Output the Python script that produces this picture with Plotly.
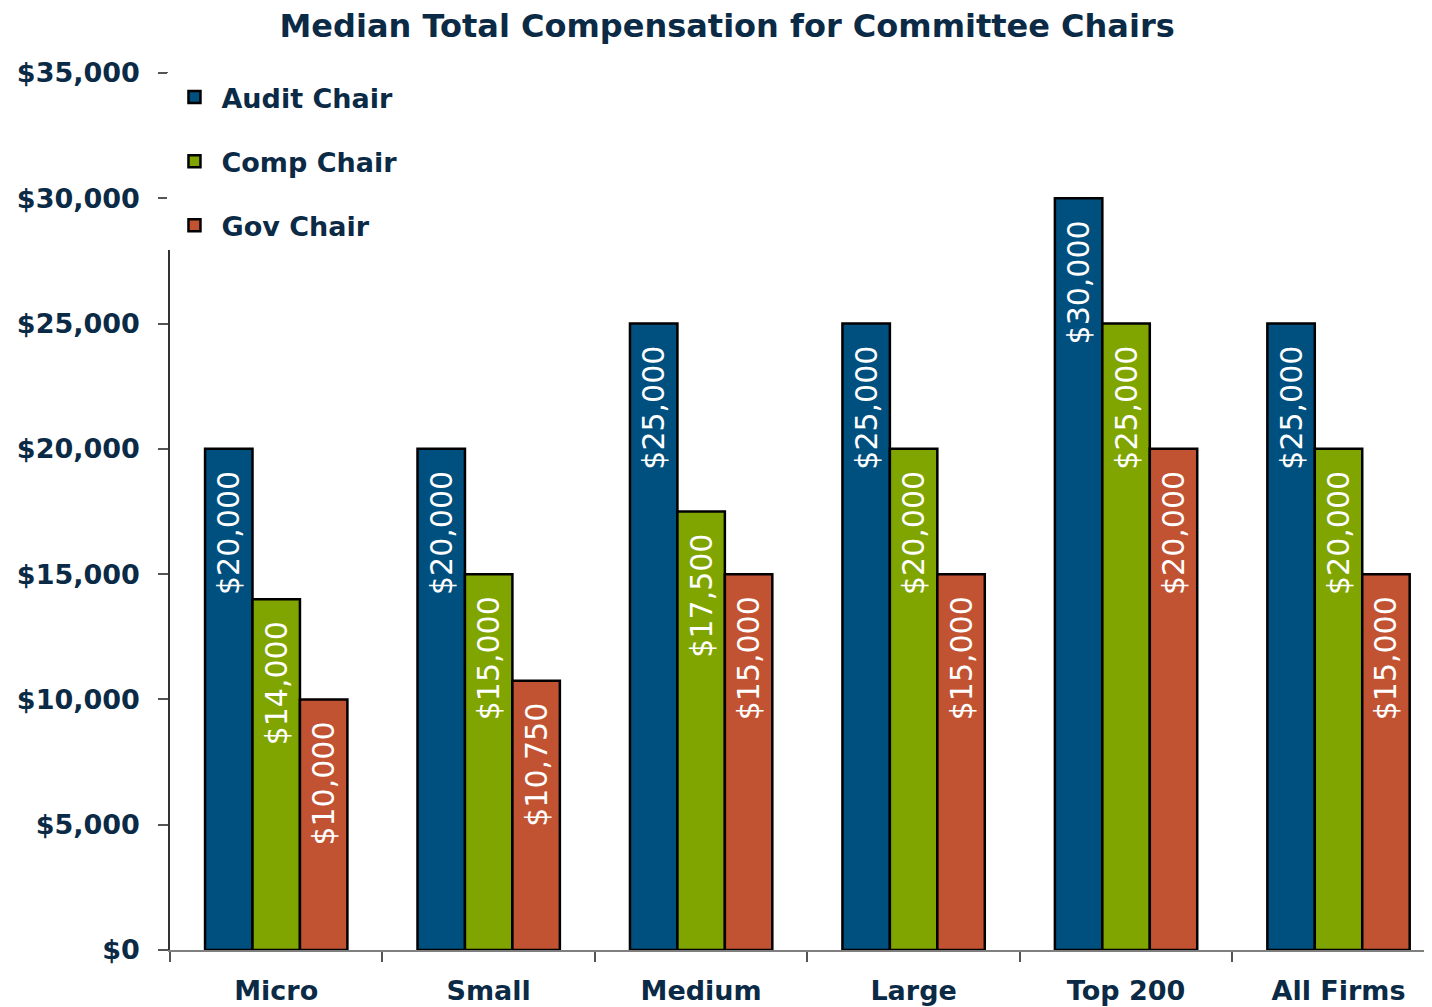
import plotly.graph_objects as go

categories = ["Micro", "Small", "Medium", "Large", "Top 200", "All Firms"]
audit_chair = [20000, 20000, 25000, 25000, 30000, 25000]
comp_chair = [14000, 15000, 17500, 20000, 25000, 20000]
gov_chair = [10000, 10750, 15000, 15000, 20000, 15000]
y_ticks = [0, 5000, 10000, 15000, 20000, 25000, 30000, 35000]

series = [
    ("Audit Chair", audit_chair, "#00507F"),
    ("Comp Chair", comp_chair, "#80A500"),
    ("Gov Chair", gov_chair, "#C25332"),
]

NAVY = "#0B2A45"
FONT = "DejaVu Sans"

fig = go.Figure()
for name, vals, col in series:
    fig.add_trace(go.Bar(
        name=name, x=categories, y=vals, legendgroup=name,
        marker=dict(color=col, line=dict(color="black", width=2.5)),
        texttemplate="%{y:$,}\u00a0\u00a0", textposition="inside",
        insidetextanchor="end", textangle=-90, constraintext="none",
        textfont=dict(family=FONT, size=30, color="white"),
    ))

# page body adds an 8px offset; figure sized to fit the window
fig.update_layout(
    width=1424, height=999,
    margin=dict(l=162, r=0, t=65, b=57),
    paper_bgcolor="white", plot_bgcolor="white",
    barmode="group", bargap=0.33, bargroupgap=0,
    title=dict(text="<b>Median Total Compensation for Committee Chairs</b>",
               x=0.505, xanchor="center", xref="container",
               y=1 - 18 / 999, yanchor="middle", yref="container",
               font=dict(family=FONT, size=32, color=NAVY)),
    showlegend=True,
    legend=dict(x=-0.002, xanchor="left", y=1.0, yanchor="top",
                bgcolor="white", borderwidth=0, tracegroupgap=26,
                itemwidth=44,
                font=dict(family=FONT, size=27, color=NAVY, weight="bold")),
    font=dict(family=FONT, color=NAVY),
)

fig.update_xaxes(
    range=[-0.5, 5.44], showline=True, linecolor="#7f7f7f", linewidth=1.5,
    ticks="outside", tickson="boundaries", ticklen=10, tickcolor="#555555",
    tickwidth=1.5, showgrid=False,
    tickfont=dict(family=FONT, size=27, color=NAVY, weight="bold"),
    ticklabelstandoff=16,
)
fig.update_yaxes(
    range=[0, 35000], tickvals=y_ticks, tickformat="$,",
    showline=True, linecolor="#333333", linewidth=1.5,
    ticks="outside", ticklen=10, tickcolor="#555555", tickwidth=1.5,
    showgrid=False, zeroline=False,
    tickfont=dict(family=FONT, size=27, color=NAVY, weight="bold"),
    ticklabelstandoff=13,
)

fig.write_html("out.html")
